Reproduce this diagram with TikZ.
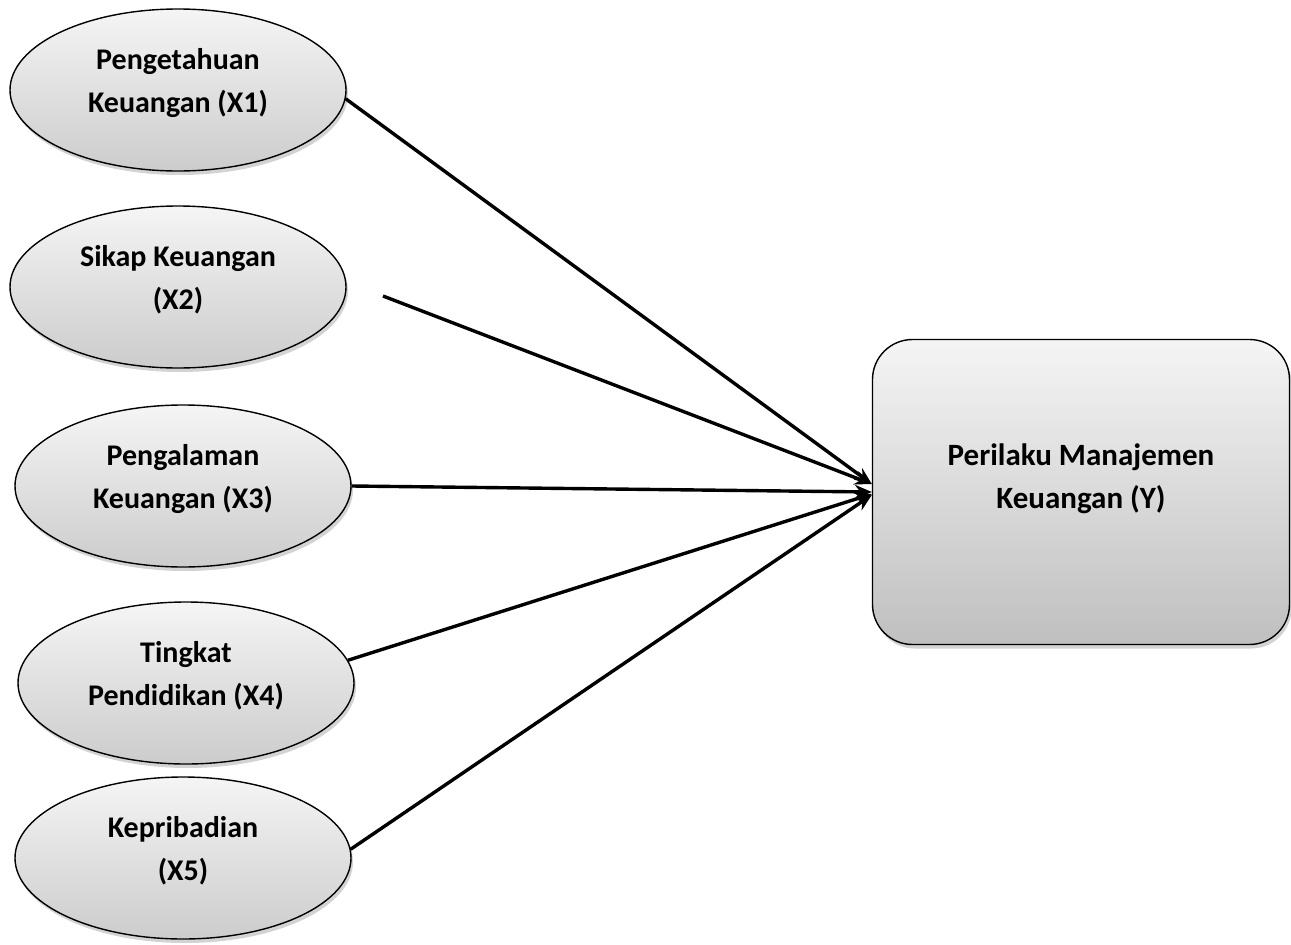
\documentclass[tikz,border=0pt]{standalone}
\usepackage{fontspec}
\setmainfont{Carlito}
\usetikzlibrary{shapes.geometric,shadows,arrows.meta}

\begin{document}
\begin{tikzpicture}[x=1pt,y=-1pt,
	var/.style={ellipse,draw=black,line width=1.4pt,minimum width=336pt,minimum height=162pt,
		inner sep=0pt,top color=gray!8,bottom color=gray!40,
		drop shadow={shadow xshift=2pt,shadow yshift=-4pt,opacity=0.35}},
	varlabel/.style={align=center,yshift=7pt,font=\fontsize{30}{43}\selectfont\bfseries},
	dep/.style={rectangle,rounded corners=40pt,draw=black,line width=1.4pt,minimum width=417pt,
		minimum height=305pt,inner sep=0pt,top color=gray!8,bottom color=gray!50,
		drop shadow={shadow xshift=2pt,shadow yshift=-4pt,opacity=0.35}},
	deplabel/.style={align=center,yshift=13pt,font=\fontsize{31}{43}\selectfont\bfseries},
	link/.style={line width=3.4pt,-{Stealth[length=17pt,width=14pt]}}]
	\useasboundingbox (0,0) rectangle (1291,945);
	\node [var,label={[varlabel]center:Pengetahuan\\Keuangan (X1)}] (x1) at (178,90) {};
	\node [var,label={[varlabel]center:Sikap Keuangan\\(X2)}] (x2) at (178,287) {};
	\node [var,label={[varlabel]center:Pengalaman\\Keuangan (X3)}] (x3) at (183,486) {};
	\node [var,label={[varlabel]center:Tingkat\\Pendidikan (X4)}] (x4) at (186,683) {};
	\node [var,label={[varlabel]center:Kepribadian\\(X5)}] (x5) at (183,858) {};
	\node [dep,label={[deplabel]center:Perilaku Manajemen\\Keuangan (Y)}] (y) at (1081,492) {};
	\coordinate (s2) at (383,296);
	\draw [link] (x1.-3) -- ([yshift=8pt]y.west);
	\draw [link] (s2) -- ([yshift=8pt]y.west);
	\draw [link] (x3.east) -- (y.west);
	\draw [link] (x4.8) -- ([yshift=-2pt]y.west);
	\draw [link] (x5.3) -- ([yshift=-3pt]y.west);
\end{tikzpicture}
\end{document}
